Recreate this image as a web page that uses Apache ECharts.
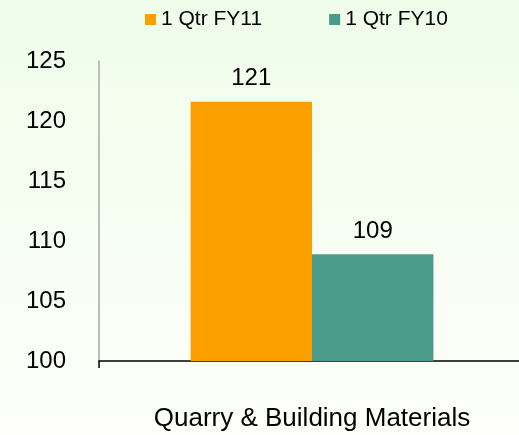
<!DOCTYPE html>
<html>
<head>
<meta charset="utf-8">
<script src="https://cdn.jsdelivr.net/npm/echarts@6/dist/echarts.min.js"></script>
<style>
  html, body { margin: 0; padding: 0; }
  #chart { width: 519px; height: 435px; }
</style>
</head>
<body>
<div id="chart"></div>
<script>
// 数据
const categories = ['Quarry & Building Materials']
const fy11Values = [121.6]
const fy10Values = [108.9]
const fy11Labels = ['121']
const fy10Labels = ['109']
const seriesNames = ['1 Qtr FY11', '1 Qtr FY10']

const fontFamily = 'Arial, "Liberation Sans", sans-serif'

const myChart = echarts.init(document.getElementById('chart'))

const options = {
  backgroundColor: new echarts.graphic.LinearGradient(0, 0, 0, 1, [
    { offset: 0, color: '#EFFDEA' },
    { offset: 1, color: '#FEFFFB' }
  ]),
  animation: false,
  legend: {
    left: 145,
    top: 9,
    padding: 0,
    itemWidth: 11,
    itemHeight: 11,
    itemGap: 67,
    icon: 'rect',
    textStyle: { fontSize: 21, color: '#000', fontFamily: fontFamily },
    data: seriesNames
  },
  grid: {
    left: 99,
    right: -6,
    top: 61,
    bottom: 74,
    outerBoundsMode: 'none'
  },
  xAxis: {
    type: 'category',
    data: categories,
    axisLine: { lineStyle: { color: '#000', width: 1.5 } },
    axisTick: { show: true, length: 7, lineStyle: { color: '#000', width: 1.5 } },
    axisLabel: { margin: 45, fontSize: 26, color: '#000', fontFamily: fontFamily },
    splitLine: { show: false }
  },
  yAxis: {
    type: 'value',
    min: 100,
    max: 125,
    interval: 5,
    axisLine: { show: true, lineStyle: { color: '#A8A8A8', width: 1.5 } },
    axisTick: { show: false },
    axisLabel: { margin: 33, fontSize: 24, color: '#000', fontFamily: fontFamily },
    splitLine: { show: false }
  },
  series: [
    {
      name: seriesNames[0],
      type: 'bar',
      data: fy11Values,
      barGap: '0%',
      barCategoryGap: '43%',
      itemStyle: { color: '#FCA000' },
      label: {
        show: true,
        position: 'top',
        distance: 11,
        fontSize: 24,
        color: '#000',
        fontFamily: fontFamily,
        formatter: function (p) { return fy11Labels[p.dataIndex] }
      }
    },
    {
      name: seriesNames[1],
      type: 'bar',
      data: fy10Values,
      itemStyle: { color: '#4A9B8A' },
      label: {
        show: true,
        position: 'top',
        distance: 11,
        fontSize: 24,
        color: '#000',
        fontFamily: fontFamily,
        formatter: function (p) { return fy10Labels[p.dataIndex] }
      }
    }
  ]
}

myChart.setOption(options)
</script>
</body>
</html>
